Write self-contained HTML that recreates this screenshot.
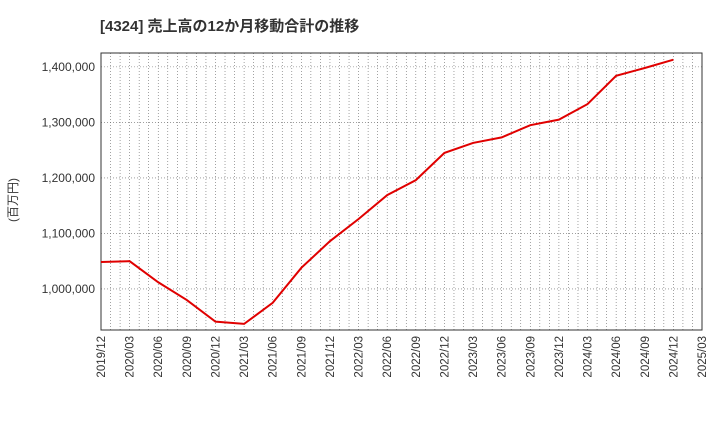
<!DOCTYPE html>
<html><head><meta charset="utf-8"><style>
body{margin:0;background:#fff;}
svg text{font-family:"Liberation Sans","Noto Sans CJK JP",sans-serif;}
</style></head><body>
<svg id="chart" width="720" height="440">
<text x="100" y="31" font-size="15" font-weight="bold" fill="#333">[4324]  売上高の12か月移動合計の推移</text>
<text transform="translate(17,200) rotate(-90)" font-size="12" fill="#333" text-anchor="middle">(百万円)</text>
<g id="grid"></g><g id="axes"></g><g id="series"></g>
</svg>
<script>
const categories=["2019/12","2020/03","2020/06","2020/09","2020/12","2021/03","2021/06","2021/09","2021/12","2022/03","2022/06","2022/09","2022/12","2023/03","2023/06","2023/09","2023/12","2024/03","2024/06","2024/09","2024/12","2025/03"];
const salesValues=[1048600,1050000,1012000,980000,941000,937000,975000,1038000,1086000,1126000,1169000,1196000,1245000,1263000,1273000,1295000,1305000,1333000,1384000,1398000,1413000];
const yTicks=[1000000,1100000,1200000,1300000,1400000];
const yTickLabels=["1,000,000","1,100,000","1,200,000","1,300,000","1,400,000"];
const L=101,R=702,T=53,B=330,yMin=926000,yMax=1425000;
const ns="http://www.w3.org/2000/svg";
const xs=i=>L+(R-L)*i/(categories.length-1);
const ys=v=>B-(v-yMin)/(yMax-yMin)*(B-T);
function mk(tag,attrs,parent){const e=document.createElementNS(ns,tag);for(const k in attrs)e.setAttribute(k,attrs[k]);document.getElementById(parent).appendChild(e);return e;}
// monthly vertical grid
for(let m=0;m<=63;m++){const x=L+(R-L)*m/63;
 const g=mk("line",{x1:x,x2:x,y1:T,y2:B,stroke:"#666","stroke-width":0.6,"stroke-dasharray":"1,2"},"grid");
 
 }
yTicks.forEach((v,i)=>{const y=ys(v);
 const g=mk("line",{x1:L,x2:R,y1:y,y2:y,stroke:"#666","stroke-width":0.6,"stroke-dasharray":"1,2"},"grid");
 
 
 const t=mk("text",{x:L-6,y:y+4,"font-size":12,fill:"#333","text-anchor":"end"},"axes");
 t.textContent=yTickLabels[i];
 
 });
categories.forEach((c,i)=>{const x=xs(i);
 const t=mk("text",{transform:`translate(${x+4},${B+6}) rotate(-90)`,"font-size":11.5,fill:"#333","text-anchor":"end"},"axes");
 t.textContent=c;
 
 });
const fr=mk("rect",{x:L,y:T,width:R-L,height:B-T,fill:"none",stroke:"#333","stroke-width":1},"axes");


const pl=mk("polyline",{points:salesValues.map((v,i)=>xs(i)+","+ys(v)).join(" "),fill:"none",stroke:"#e00000","stroke-width":2},"series");


</script>
</body></html>
